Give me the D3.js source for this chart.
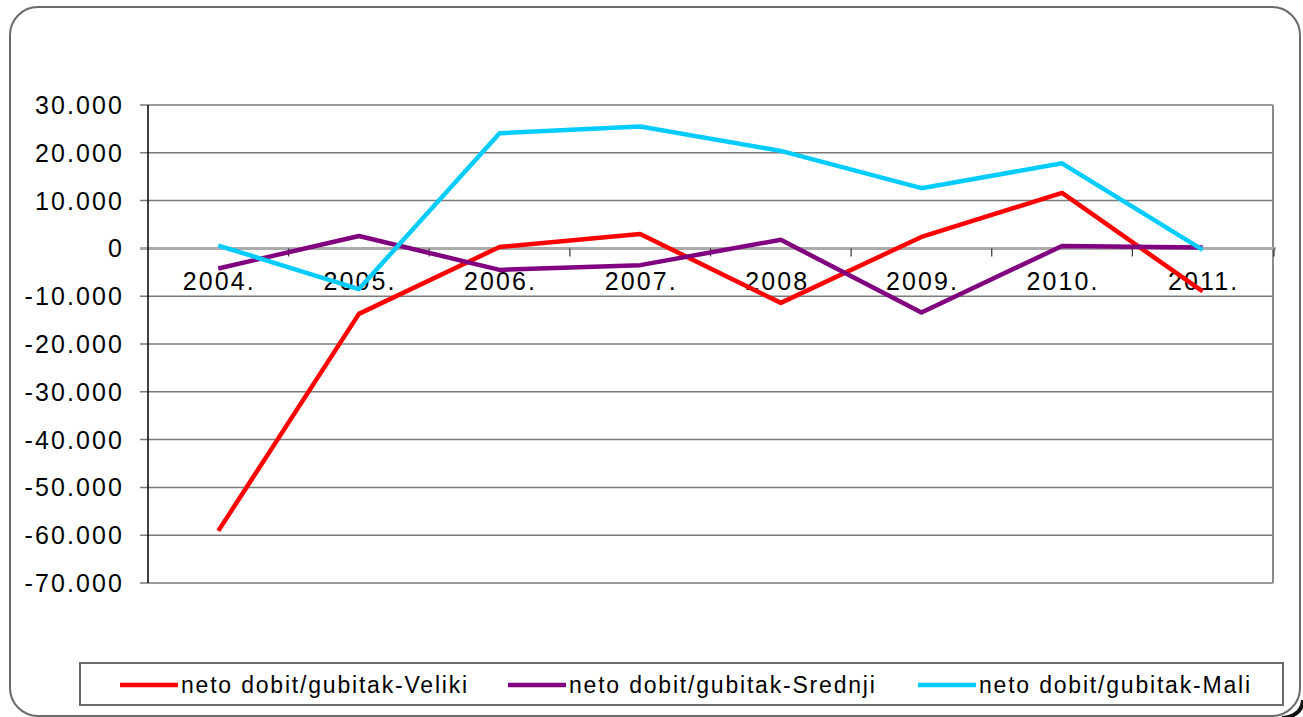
<!DOCTYPE html>
<html>
<head>
<meta charset="utf-8">
<script src="https://cdn.jsdelivr.net/npm/d3@7"></script>
<style>
  html, body { margin: 0; padding: 0; background: #fff; }
  text { font-family: "Liberation Sans", Arial, sans-serif; fill: #000; }
</style>
</head>
<body>
<div id="chart"></div>
<script>
const years = ["2004.", "2005.", "2006.", "2007.", "2008.", "2009.", "2010.", "2011."];
const veliki  = [-59100, -13700, 300, 3000, -11400, 2400, 11600, -9000];
const srednji = [-4200, 2600, -4500, -3500, 1800, -13400, 500, 200];
const mali    = [600, -8500, 24100, 25500, 20400, 12600, 17800, -300];
const yTicks = [30000, 20000, 10000, 0, -10000, -20000, -30000, -40000, -50000, -60000, -70000];

const series = [
    { name: "neto dobit/gubitak-Veliki", values: veliki, color: "#ff0000" },
    { name: "neto dobit/gubitak-Srednji", values: srednji, color: "#800080" },
    { name: "neto dobit/gubitak-Mali", values: mali, color: "#00ccff" }
];

const width = 1303, height = 717;
const plot = { left: 148, right: 1273, top: 105, bottom: 583 };

const svg = d3.select("#chart").append("svg")
    .attr("width", width)
    .attr("height", height);

// outer frame
svg.append("rect")
    .attr("x", 10).attr("y", 7)
    .attr("width", 1290).attr("height", 709)
    .attr("rx", 28).attr("ry", 28)
    .attr("fill", "none")
    .attr("stroke", "#6a6a6a")
    .attr("stroke-width", 2);

// dark shadow on the bottom right corner
svg.append("path")
    .attr("d", "M1303,700 Q1302,716 1282,718")
    .attr("fill", "none")
    .attr("stroke", "#111")
    .attr("stroke-width", 4);

const x = d3.scaleBand().domain(years).range([plot.left, plot.right]);
const y = d3.scaleLinear().domain([-70000, 30000]).range([plot.bottom, plot.top]);

// thousands with a dot, like "30.000"
const fmt = v => v === 0 ? "0" : d3.format(",")(v).replace(/,/g, ".").replace("\u2212", "-");

// gridlines
svg.append("g")
    .selectAll("line")
    .data(yTicks.filter(v => v !== 0))
    .enter().append("line")
    .attr("x1", plot.left - 8)
    .attr("x2", plot.right)
    .attr("y1", d => y(d))
    .attr("y2", d => y(d))
    .attr("stroke", "#7a7a7a")
    .attr("stroke-width", 1.5);

// right border of plot
svg.append("line")
    .attr("x1", plot.right).attr("x2", plot.right)
    .attr("y1", plot.top).attr("y2", plot.bottom)
    .attr("stroke", "#8a8a8a")
    .attr("stroke-width", 2);

// zero line (category axis)
svg.append("line")
    .attr("x1", plot.left - 8).attr("x2", plot.right + 3)
    .attr("y1", y(0)).attr("y2", y(0))
    .attr("stroke", "#aaaaaa")
    .attr("stroke-width", 3);

// category ticks at band edges
svg.append("g")
    .selectAll("line")
    .data(years.slice(1).map(d => x(d)).concat([plot.right + 1]))
    .enter().append("line")
    .attr("x1", d => d).attr("x2", d => d)
    .attr("y1", y(0)).attr("y2", y(0) + 8)
    .attr("stroke", "#333")
    .attr("stroke-width", 1.2);

// y axis
svg.append("line")
    .attr("x1", plot.left).attr("x2", plot.left)
    .attr("y1", plot.top).attr("y2", plot.bottom)
    .attr("stroke", "#111")
    .attr("stroke-width", 1.6);

// y labels
svg.append("g")
    .selectAll("text")
    .data(yTicks)
    .enter().append("text")
    .attr("x", 124)
    .attr("y", d => y(d) + 9)
    .attr("text-anchor", "end")
    .attr("font-size", 25)
    .attr("letter-spacing", 2.1)
    .text(d => fmt(d));

// x labels
svg.append("g")
    .selectAll("text")
    .data(years)
    .enter().append("text")
    .attr("x", d => x(d) + x.bandwidth() / 2 + 1)
    .attr("y", y(0) + 42)
    .attr("text-anchor", "middle")
    .attr("font-size", 25)
    .attr("letter-spacing", 2.1)
    .text(d => d);

// series lines
const line = d3.line()
    .x((d, i) => x(years[i]) + x.bandwidth() / 2)
    .y(d => y(d));

svg.append("g")
    .selectAll("path")
    .data(series)
    .enter().append("path")
    .attr("d", d => line(d.values))
    .attr("fill", "none")
    .attr("stroke", d => d.color)
    .attr("stroke-width", 4.5)
    .attr("stroke-linejoin", "round");

// legend
const legend = svg.append("g");
legend.append("rect")
    .attr("x", 80).attr("y", 663)
    .attr("width", 1203).attr("height", 42)
    .attr("fill", "#fff")
    .attr("stroke", "#6a6a6a")
    .attr("stroke-width", 2);

const legendX = [120, 508, 918];
const item = legend.selectAll("g.item")
    .data(series)
    .enter().append("g")
    .attr("class", "item")
    .attr("transform", (d, i) => `translate(${legendX[i]},685)`);

item.append("line")
    .attr("x1", 0).attr("x2", 58)
    .attr("stroke", d => d.color)
    .attr("stroke-width", 4.5);

item.append("text")
    .attr("x", 61)
    .attr("y", 8)
    .attr("font-size", 23)
    .attr("letter-spacing", 1.8)
    .text(d => d.name);
</script>
</body>
</html>
